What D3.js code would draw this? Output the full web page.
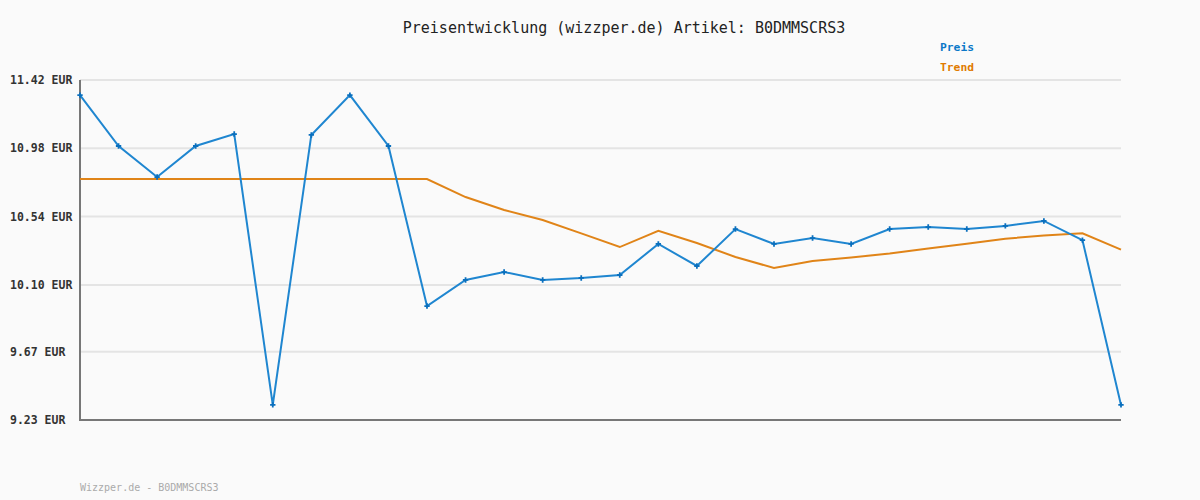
<!DOCTYPE html>
<html>
<head>
<meta charset="utf-8">
<script src="https://cdn.jsdelivr.net/npm/d3@7"></script>
<style>
  body { margin: 0; background: #fafafa; }
  svg { display: block; }
</style>
</head>
<body>
<div id="chart"></div>
<script>
// Price history values (28 data points)
const preis = [11.323, 10.995, 10.795, 10.995, 11.072, 9.327, 11.066, 11.323, 10.995, 9.964,
    10.132, 10.183, 10.132, 10.145, 10.164, 10.364, 10.222, 10.460, 10.364, 10.402,
    10.364, 10.460, 10.473, 10.460, 10.480, 10.512, 10.389, 9.327];
const trend = [10.782, 10.782, 10.782, 10.782, 10.782, 10.782, 10.782, 10.782, 10.782, 10.782,
    10.666, 10.583, 10.518, 10.432, 10.344, 10.449, 10.370, 10.280, 10.209, 10.254,
    10.277, 10.302, 10.334, 10.366, 10.398, 10.418, 10.433, 10.327];
const tickValues = [9.23, 9.67, 10.10, 10.54, 10.98, 11.42];
const tickLabels = ["9.23 EUR", "9.67 EUR", "10.10 EUR", "10.54 EUR", "10.98 EUR", "11.42 EUR"];

const width = 1200, height = 500;
const plotLeft = 80, plotRight = 1121, plotTop = 80, plotBottom = 420;
const font = "'DejaVu Sans Mono', 'Liberation Mono', monospace";

const svg = d3.select("#chart").append("svg")
    .attr("width", width)
    .attr("height", height);

svg.append("rect").attr("width", width).attr("height", height).attr("fill", "#fafafa");

const x = d3.scaleLinear().domain([0, preis.length - 1]).range([plotLeft, plotRight]);
const y = d3.scaleLinear().domain([9.23, 11.42]).range([plotBottom, plotTop]);

// gridlines
svg.append("g")
    .selectAll("line")
    .data(tickValues.slice(1))
    .join("line")
    .attr("x1", plotLeft).attr("x2", plotRight)
    .attr("y1", d => y(d)).attr("y2", d => y(d))
    .attr("stroke", "#e4e4e4")
    .attr("stroke-width", 2);

// tick labels
svg.append("g")
    .selectAll("text")
    .data(tickValues)
    .join("text")
    .attr("x", 10)
    .attr("y", d => y(d) + 4)
    .text((d, i) => tickLabels[i])
    .attr("font-family", font)
    .attr("font-size", 11.5)
    .attr("font-weight", "bold")
    .attr("fill", "#333");

// axes
svg.append("line")
    .attr("x1", plotLeft).attr("x2", plotLeft)
    .attr("y1", plotTop).attr("y2", plotBottom + 1)
    .attr("stroke", "#777").attr("stroke-width", 2);
svg.append("line")
    .attr("x1", plotLeft).attr("x2", plotRight)
    .attr("y1", plotBottom).attr("y2", plotBottom)
    .attr("stroke", "#777").attr("stroke-width", 2);

const line = d3.line().x((_, i) => x(i)).y(d => y(d));

svg.append("path")
    .datum(trend)
    .attr("d", line)
    .attr("fill", "none")
    .attr("stroke", "#e08418")
    .attr("stroke-width", 2);

svg.append("path")
    .datum(preis)
    .attr("d", line)
    .attr("fill", "none")
    .attr("stroke", "#1f86d0")
    .attr("stroke-width", 2);

// point markers
svg.append("g")
    .selectAll("path")
    .data(preis)
    .join("path")
    .attr("transform", (d, i) => `translate(${x(i)},${y(d)})`)
    .attr("d", d3.symbol().type(d3.symbolCross).size(16))
    .attr("fill", "#0a6fbd");

// title
svg.append("text")
    .attr("x", 624).attr("y", 33)
    .attr("text-anchor", "middle")
    .attr("font-family", font)
    .attr("font-size", 15)
    .attr("fill", "#222")
    .text("Preisentwicklung (wizzper.de) Artikel: B0DMMSCRS3");

// legend
svg.append("text")
    .attr("x", 940).attr("y", 51)
    .attr("font-family", font).attr("font-size", 11.3).attr("font-weight", "bold")
    .attr("fill", "#0b78c8")
    .text("Preis");
svg.append("text")
    .attr("x", 940).attr("y", 71)
    .attr("font-family", font).attr("font-size", 11.3).attr("font-weight", "bold")
    .attr("fill", "#e07a00")
    .text("Trend");

// footer
svg.append("text")
    .attr("x", 80).attr("y", 491)
    .attr("font-family", font).attr("font-size", 10)
    .attr("fill", "#aaa")
    .text("Wizzper.de - B0DMMSCRS3");
</script>
</body>
</html>
